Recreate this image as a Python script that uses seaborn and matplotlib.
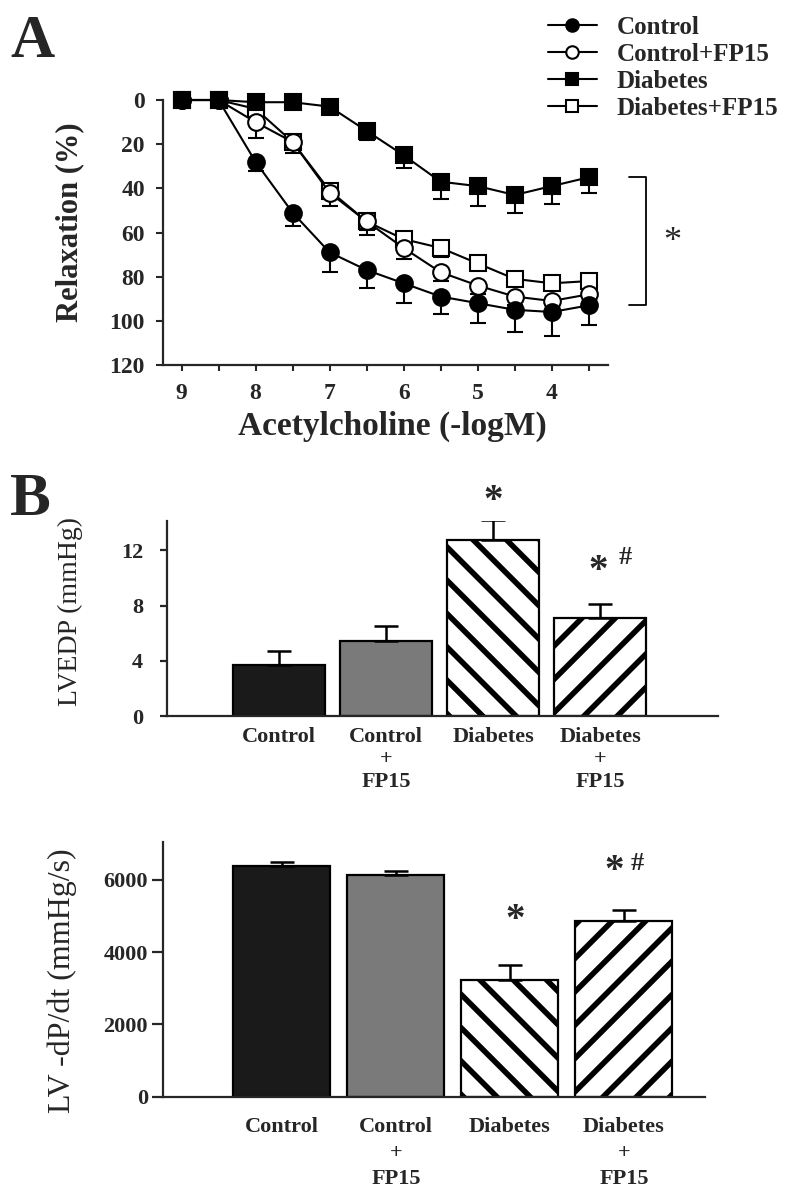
import matplotlib
matplotlib.use('Agg')
import pandas as pd
import seaborn as sns
import matplotlib.pyplot as plt

# Panel A: relaxation to acetylcholine (%)
log_conc = [9, 8.5, 8, 7.5, 7, 6.5, 6, 5.5, 5, 4.5, 4, 3.5]
relax_control = [0, 0, 28, 51, 69, 77, 83, 89, 92, 95, 96, 93]
relax_control_fp15 = [0, 0, 10, 19, 42, 55, 67, 78, 84, 89, 91, 88]
relax_diabetes = [0, 0, 1, 1, 3, 14, 25, 37, 39, 43, 39, 35]
relax_diabetes_fp15 = [0, 0, 4, 19, 41, 55, 63, 67, 74, 81, 83, 82]
err_control = [0, 0, 4, 6, 9, 8, 9, 8, 9, 10, 11, 9]
err_control_fp15 = [0, 0, 7, 5, 6, 6, 5, 4, 4, 4, 4, 4]
err_diabetes = [0, 0, 0, 0, 2, 4, 6, 8, 9, 8, 8, 7]
err_diabetes_fp15 = [0, 0, 3, 3, 4, 4, 4, 4, 3, 3, 3, 3]

# Panel B: haemodynamics
bar_labels = ['Control', 'Control\n+\nFP15', 'Diabetes', 'Diabetes\n+\nFP15']
lvedp = [3.7, 5.45, 12.78, 7.09]
lvedp_err = [1.02, 1.04, 1.4, 1.01]
dpdt = [6400, 6150, 3230, 4870]
dpdt_err = [110, 110, 420, 295]

sns.set_style('ticks')
plt.rcParams['font.family'] = ['Liberation Serif', 'DejaVu Serif']
plt.rcParams['font.weight'] = 'bold'
plt.rcParams['axes.labelweight'] = 'bold'
plt.rcParams['hatch.linewidth'] = 4.0
plt.rcParams['axes.linewidth'] = 1.6

fig = plt.figure(figsize=(8, 12), dpi=100)

# ---------------- panel A ----------------
ax = fig.add_axes([0.20375, 0.69583, 0.55625, 0.22083])

curves = [
    ('Diabetes+FP15', relax_diabetes_fp15, err_diabetes_fp15, 's', 'white'),
    ('Control+FP15', relax_control_fp15, err_control_fp15, 'o', 'white'),
    ('Diabetes', relax_diabetes, err_diabetes, 's', 'black'),
    ('Control', relax_control, err_control, 'o', 'black'),
]
handles = {}
for name, vals, errs, mk, face in curves:
    df = pd.DataFrame({'logM': log_conc, 'relax': vals})
    ax.errorbar(df['logM'], df['relax'], yerr=[[0] * len(errs), errs], fmt='none',
                ecolor='black', elinewidth=1.5, capsize=6, capthick=1.5,
                zorder=1, clip_on=False)
    sns.lineplot(data=df, x='logM', y='relax', ax=ax, color='black', marker=mk,
                 markersize=12, markerfacecolor=face, markeredgecolor='black',
                 markeredgewidth=1.5, linewidth=1.5, errorbar=None,
                 label=name, zorder=3, clip_on=False, legend=False)
    handles[name] = ax.lines[-1]

ax.set_xlim(9.25, 3.24)
ax.set_ylim(120, 0)
ax.set_xticks([9, 8, 7, 6, 5, 4])
ax.set_xticklabels(['9', '8', '7', '6', '5', '4'])
ax.set_xticks([8.5, 7.5, 6.5, 5.5, 4.5, 3.5], minor=True)
ax.set_yticks([0, 20, 40, 60, 80, 100, 120])
ax.tick_params(axis='x', which='both', length=4, width=1.5, labelsize=17, pad=9)
ax.tick_params(axis='y', length=5, width=1.5, labelsize=17, pad=8)
sns.despine(ax=ax)

ax.set_xlabel('Acetylcholine (-logM)', fontsize=24)
ax.xaxis.label.set_va('center')
ax.xaxis.set_label_coords(0.515, -0.23)
ax.set_ylabel('Relaxation (%)', fontsize=22)
ax.yaxis.label.set_va('center')
ax.yaxis.set_label_coords(-0.209, 0.54)

# significance bracket
b_top, b_bot = relax_diabetes[-1], relax_control[-1]
ax.plot([2.95, 2.73, 2.73, 2.95], [b_top, b_top, b_bot, b_bot], color='black',
        linewidth=1.3, clip_on=False)
ax.annotate('*', xy=(2.73, (b_top + b_bot) / 2), xytext=(19, -7), textcoords='offset points',
            ha='center', va='baseline', fontsize=26, fontweight='normal', annotation_clip=False)

order = ['Control', 'Control+FP15', 'Diabetes', 'Diabetes+FP15']
fig.legend([handles[n] for n in order], order, loc='upper left',
           bbox_to_anchor=(0.685, 0.9867), frameon=False,
           prop={'size': 18, 'weight': 'bold'}, handlelength=1.95,
           handletextpad=0.78, labelspacing=0.16, borderpad=0, borderaxespad=0,
           markerscale=0.75)

fig.text(10 / 800, 1 - 57 / 1200, 'A', fontsize=44, fontweight='bold', va='baseline')
fig.text(10 / 800, 1 - 515 / 1200, 'B', fontsize=44, fontweight='bold', va='baseline')

# ---------------- panel B ----------------
fills = {'Control': '#1a1a1a', 'Control\n+\nFP15': '#7a7a7a',
         'Diabetes': 'white', 'Diabetes\n+\nFP15': 'white'}
hatches = ['', '', '\\', '/']


def bar_panel(ax, vals, errs, width, labelpad, linespacing):
    df = pd.DataFrame({'group': bar_labels, 'value': vals})
    sns.barplot(data=df, x='group', y='value', hue='group', palette=fills,
                legend=False, width=width, edgecolor='black', linewidth=1.6,
                errorbar=None, ax=ax, saturation=1)
    for patch, h in zip(ax.patches, hatches):
        patch.set_hatch(h)
    ax.errorbar(range(len(vals)), vals, yerr=[[0] * len(errs), errs], fmt='none',
                ecolor='black', elinewidth=1.8, capsize=8.3, capthick=1.8, zorder=5)
    sns.despine(ax=ax)
    ax.set_xlabel('')
    ax.tick_params(axis='x', length=0, labelsize=16, pad=labelpad)
    for t in ax.get_xticklabels():
        t.set_linespacing(linespacing)


def mark(ax, i, top, text, dx, dy, size):
    ax.annotate(text, xy=(i, top), xytext=(dx, dy), textcoords='offset points',
                ha='center', va='baseline', fontsize=size, fontweight='bold',
                annotation_clip=False)


ax1 = fig.add_axes([0.2084, 0.40333, 0.6891, 0.16275])
bar_panel(ax1, lvedp, lvedp_err, 0.86, 8, 1.15)
ax1.set_xlim(-1.05, 4.10)
ax1.set_ylim(0, 14.15)
ax1.set_yticks([0, 4, 8, 12])
ax1.tick_params(axis='y', length=5, width=1.6, labelsize=16, pad=12)
ax1.set_ylabel('LVEDP (mmHg)', fontsize=20, fontweight='normal')
ax1.yaxis.label.set_va('center')
ax1.yaxis.set_label_coords(-0.1754, 0.533)
mark(ax1, 2, lvedp[2] + lvedp_err[2], '*', 0, 7, 28)
mark(ax1, 3, lvedp[3] + lvedp_err[3], '*', -1.5, 17, 28)
mark(ax1, 3, lvedp[3] + lvedp_err[3], '#', 18, 29, 19)

ax2 = fig.add_axes([0.2041, 0.08625, 0.677, 0.21233])
bar_panel(ax2, dpdt, dpdt_err, 0.85, 15, 1.4)
ax2.set_xlim(-1.04, 3.71)
ax2.set_ylim(0, 7060)
ax2.set_yticks([0, 2000, 4000, 6000])
ax2.tick_params(axis='y', length=8, width=1.6, labelsize=16, pad=3)
ax2.set_ylabel('LV -dP/dt (mmHg/s)', fontsize=23, fontweight='normal')
ax2.yaxis.label.set_va('center')
ax2.yaxis.set_label_coords(-0.187, 0.453)
mark(ax2, 2, dpdt[2] + dpdt_err[2], '*', 3.6, 25, 28)
mark(ax2, 3, dpdt[3] + dpdt_err[3], '*', -7, 21, 28)
mark(ax2, 3, dpdt[3] + dpdt_err[3], '#', 9.7, 29, 19)

fig.savefig('out.png', dpi=100)
plt.close(fig)
